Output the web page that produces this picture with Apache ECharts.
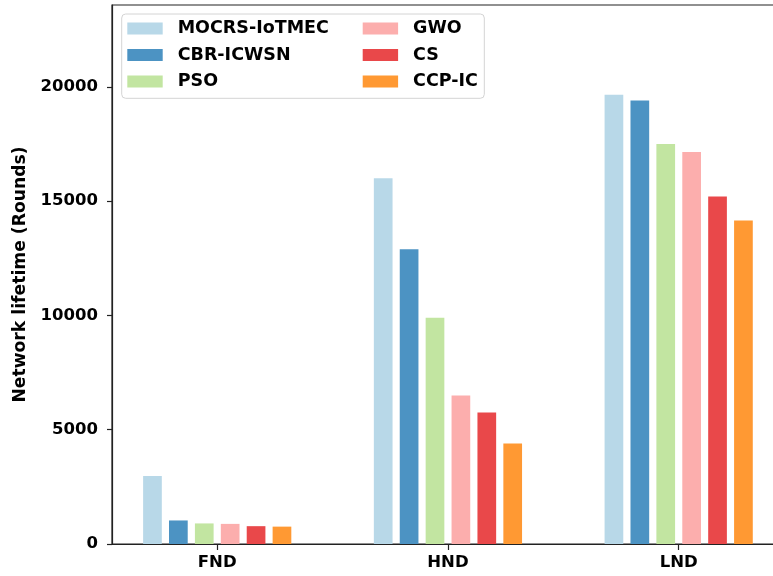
<!DOCTYPE html>
<html>
<head>
<meta charset="utf-8">
<script src="https://cdn.jsdelivr.net/npm/echarts@6/dist/echarts.min.js"></script>
<style>
html,body{margin:0;padding:0;background:#fff;}
#c{width:773px;height:576px;}
</style>
</head>
<body>
<div id="c"></div>
<script>
var categories = ['FND', 'HND', 'LND'];
var seriesNames = ['MOCRS-IoTMEC', 'CBR-ICWSN', 'PSO', 'GWO', 'CS', 'CCP-IC'];
var mocrs = [2980, 16000, 19650];
var cbr = [1030, 12900, 19400];
var pso = [900, 9900, 17500];
var gwo = [880, 6500, 17150];
var cs = [780, 5750, 15200];
var ccp = [760, 4400, 14150];
var yTicks = [0, 5000, 10000, 15000, 20000];
var allValues = [mocrs, cbr, pso, gwo, cs, ccp];
var colors = ['#b8d8e8', '#4c93c3', '#c2e5a1', '#fcaead', '#e9484a', '#ff9933'];

var font = 'DejaVu Sans';
var series = seriesNames.map(function (n, i) {
  return {
    name: n,
    type: 'bar',
    barWidth: 18.7,
    barGap: '38.5%',
    itemStyle: { color: colors[i] },
    data: allValues[i].map(function (v, j) { return [j, v]; })
  };
});

var legendText = { fontFamily: font, fontWeight: 'bold', fontSize: 17.5, color: '#000', lineHeight: 18, padding: [0, 0, 0, 10] };

var chart = echarts.init(document.getElementById('c'), null, { renderer: 'canvas' });
chart.setOption({
  animation: false,
  backgroundColor: '#fff',
  graphic: [{
    type: 'rect',
    shape: { x: 121.7, y: 14, width: 362.6, height: 84.3, r: 4 },
    style: { fill: 'rgba(255,255,255,0.85)', stroke: '#d4d4d4', lineWidth: 1 },
    z: 50
  }],
  legend: [{
    data: seriesNames.slice(0, 3),
    orient: 'vertical',
    left: 127.3,
    top: 19.5,
    padding: 0,
    itemWidth: 35.4,
    itemHeight: 11.8,
    itemGap: 8.5,
    icon: 'rect',
    z: 60,
    textStyle: legendText
  }, {
    data: seriesNames.slice(3),
    orient: 'vertical',
    left: 362.7,
    top: 19.5,
    padding: 0,
    itemWidth: 35.4,
    itemHeight: 11.8,
    itemGap: 8.5,
    icon: 'rect',
    z: 60,
    textStyle: legendText
  }],
  grid: {
    left: 112, top: 5, bottom: 32, right: -10.9,
    outerBoundsMode: 'none',
    containLabel: false,
    show: true, borderColor: '#222', borderWidth: 1.2, backgroundColor: 'transparent'
  },
  xAxis: {
    type: 'value',
    min: -0.456,
    max: 2.456,
    splitLine: { show: false },
    axisLine: { show: true, onZero: false, lineStyle: { color: '#222', width: 1.2 } },
    axisTick: { show: true, length: 6, lineStyle: { color: '#222', width: 1.2 }, customValues: [0, 1, 2] },
    axisLabel: {
      customValues: [0, 1, 2],
      margin: 10,
      formatter: function (v) { return categories[Math.round(v)]; },
      fontFamily: font, fontWeight: 'bold', fontSize: 16.5, color: '#000'
    }
  },
  yAxis: {
    type: 'value',
    min: 0,
    max: 23580,
    name: 'Network lifetime (Rounds)',
    nameLocation: 'middle',
    nameGap: 83,
    nameTextStyle: { fontFamily: font, fontWeight: 'bold', fontSize: 17.2, color: '#000' },
    splitLine: { show: false },
    axisLine: { show: true, onZero: false, lineStyle: { color: '#222', width: 1.2 } },
    axisTick: { show: true, length: 5, lineStyle: { color: '#222', width: 1.2 }, customValues: yTicks },
    axisLabel: {
      customValues: yTicks,
      margin: 14,
      formatter: function (v) { return String(v); },
      fontFamily: font, fontWeight: 'bold', fontSize: 16.5, color: '#000'
    }
  },
  series: series
});
</script>
</body>
</html>
